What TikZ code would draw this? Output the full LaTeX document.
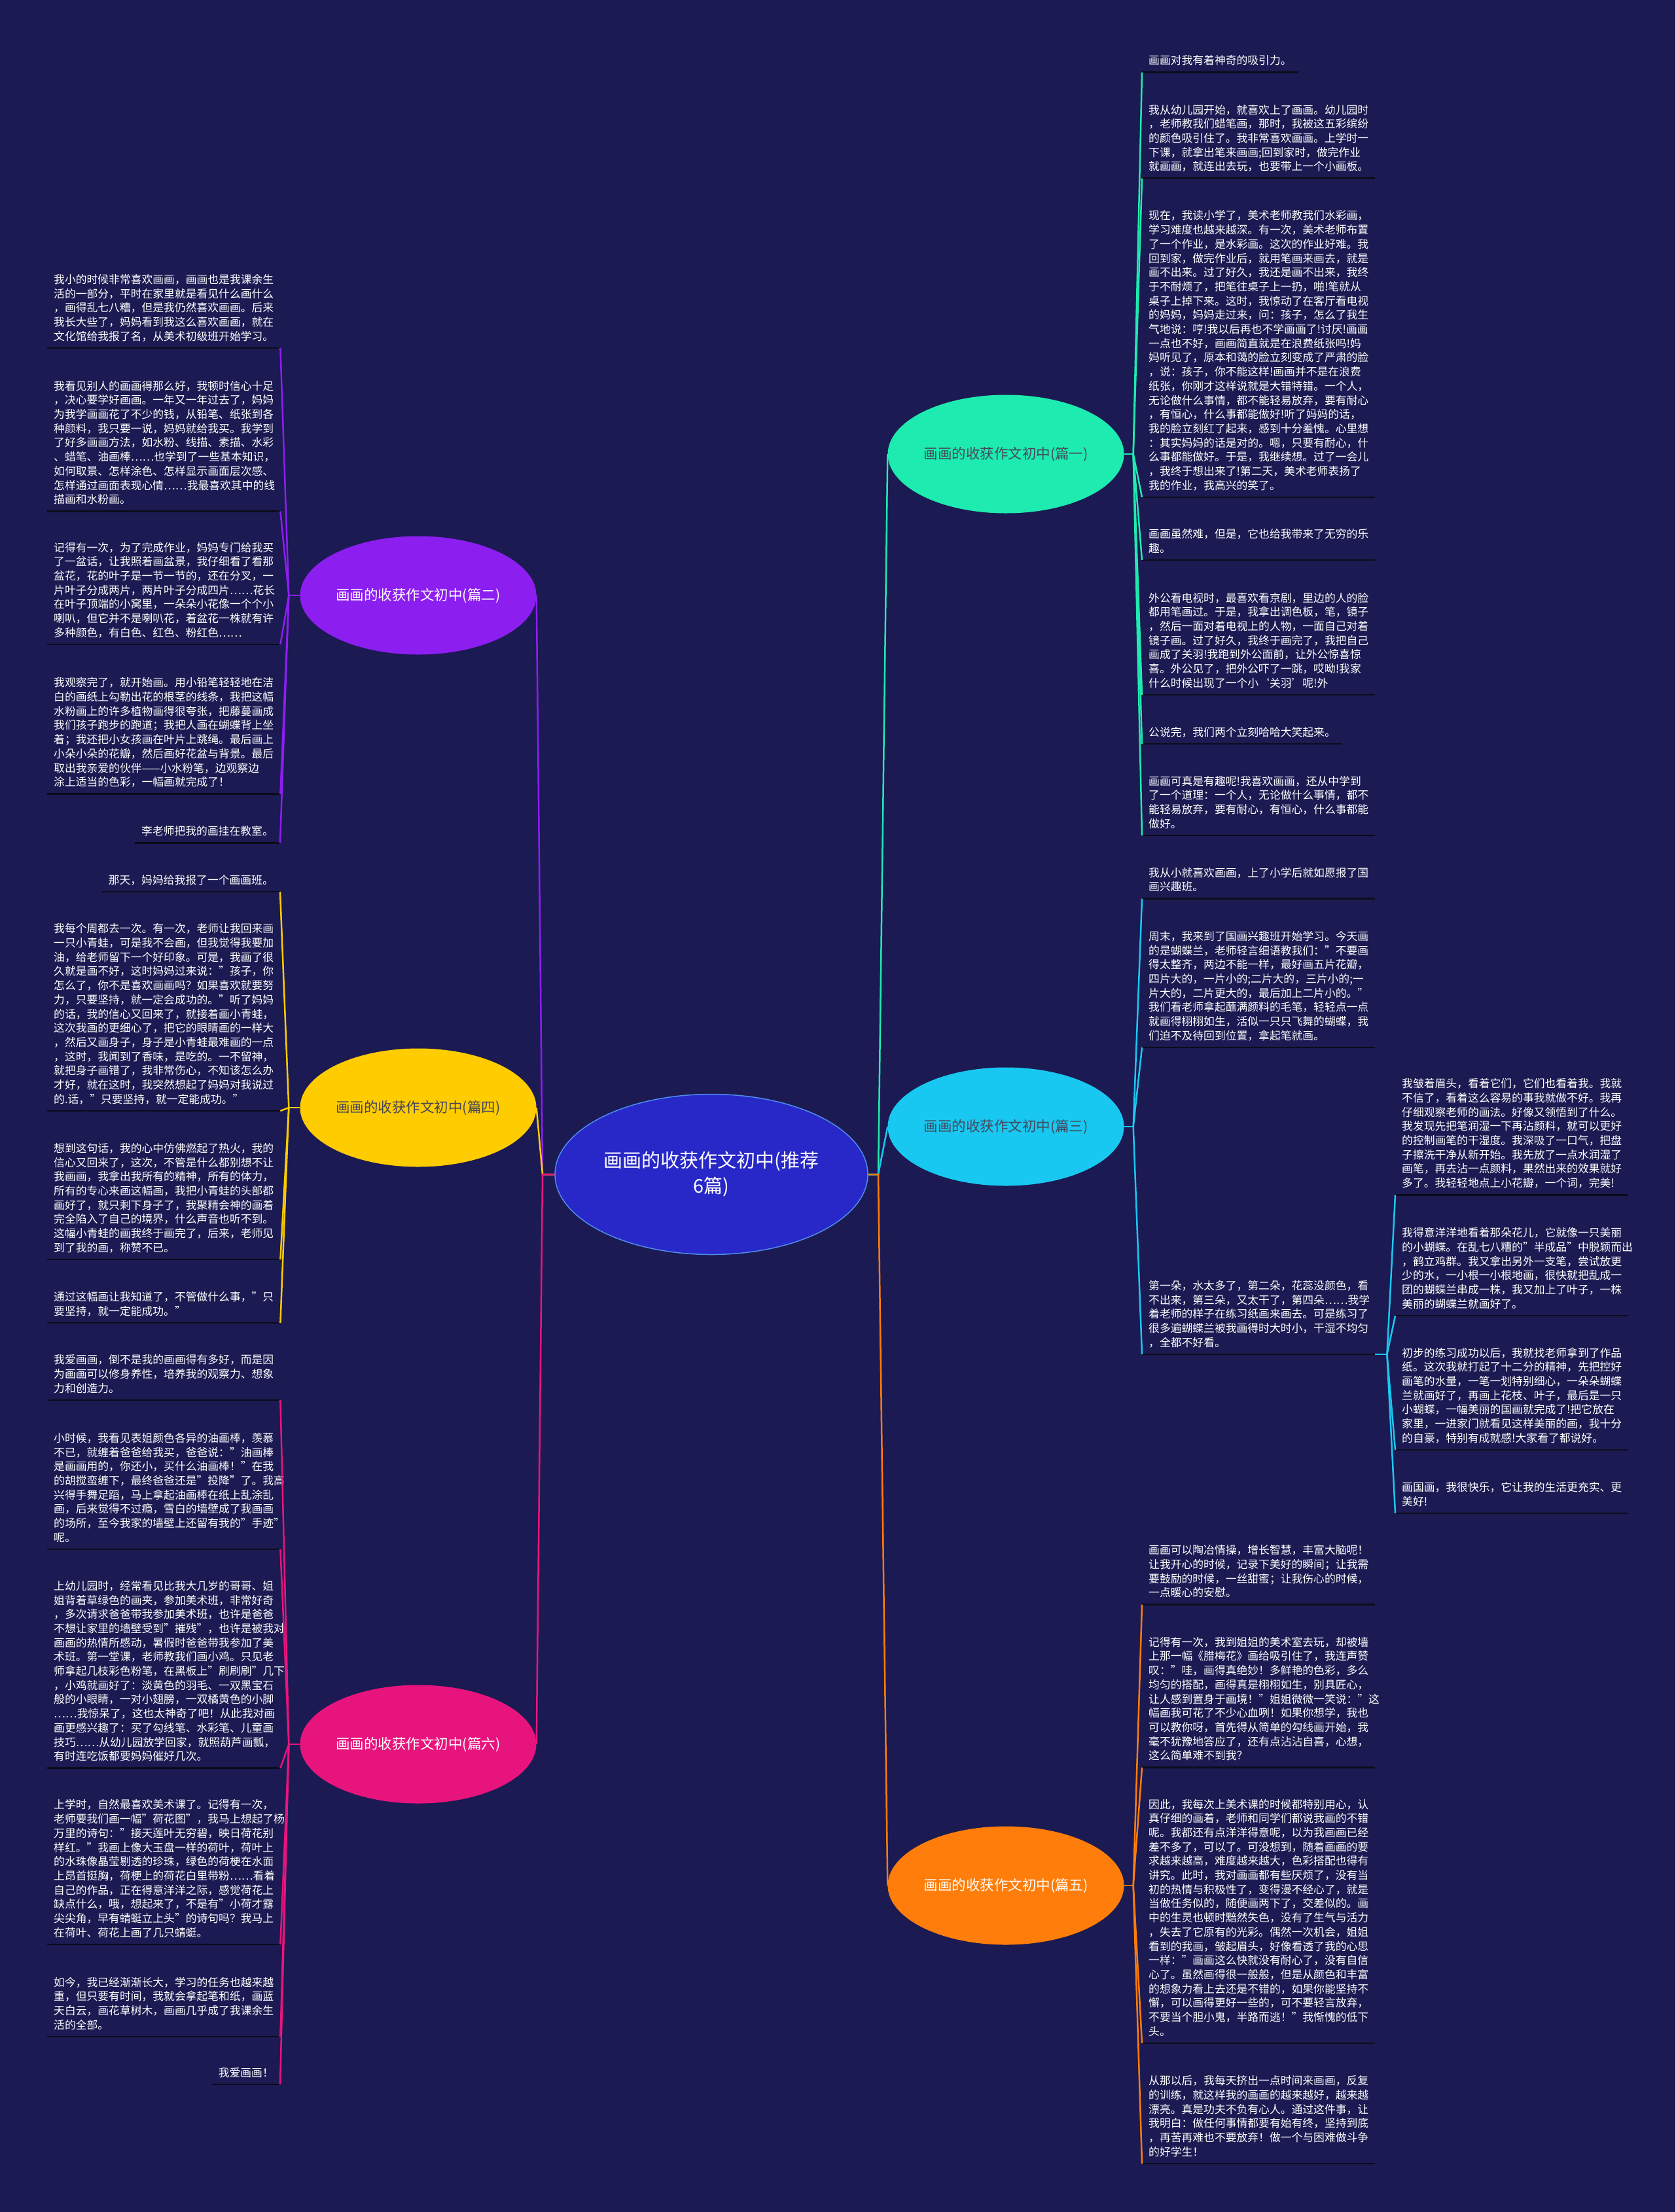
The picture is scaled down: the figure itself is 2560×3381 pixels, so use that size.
\documentclass[tikz,border=0pt]{standalone}
\usepackage{fontspec}
\setmainfont{Noto Sans CJK SC}
\usetikzlibrary{shapes.geometric,calc}
\definecolor{bg}{RGB}{27,26,82}
\definecolor{ulc}{RGB}{12,12,28}
\definecolor{cfill}{RGB}{40,40,200}
\definecolor{cborder}{RGB}{80,140,240}
\definecolor{cpurple}{RGB}{140,30,240}
\definecolor{cyellow}{RGB}{255,204,0}
\definecolor{cpink}{RGB}{232,20,125}
\definecolor{cmint}{RGB}{30,235,175}
\definecolor{ccyan}{RGB}{25,200,240}
\definecolor{corange}{RGB}{255,125,10}
\definecolor{darktxt}{RGB}{70,70,90}
\newcommand\lstrut{\vrule width 0pt height 14pt depth 4pt}
\newcommand\leaffont{\fontsize{16.8pt}{21.7pt}\selectfont}
\newcommand\branchfont{\fontsize{21.5pt}{26pt}\selectfont}
\newcommand\centerfont{\fontsize{29pt}{39pt}\selectfont}
\tikzset{
  leaf/.style={font=\leaffont, text=white, align=left, inner sep=0pt, text width=336pt,
    execute at begin node=\lstrut, execute at end node=\lstrut},
  sleaf/.style={font=\leaffont, text=white, inner sep=0pt, execute at begin node=\lstrut},
  ul/.style={line width=2.5pt, draw=ulc},
  branch/.style={ellipse, minimum width=361pt, minimum height=181pt, inner sep=0pt, font=\branchfont},
  conn/.style={line width=2.5pt, draw=#1},
}
\newcommand\leaf[5]{%
  \node[#1,anchor=#3] (#2) at #4 {#5};
  \coordinate (#2w) at ([shift={(-10,7.6)}]#2.south west);
  \coordinate (#2e) at ([shift={(10,7.6)}]#2.south east);
  \draw[ul] (#2w) -- (#2e);}
\begin{document}
\begin{tikzpicture}[x=1pt,y=-1pt]
\fill[bg] (0,0) rectangle (2560,3381);
\useasboundingbox (0,0) rectangle (2560,3381);

% central and branch nodes
\node[ellipse, fill=cfill, draw=cborder, line width=1.5pt, minimum width=478pt, minimum height=245pt,
  inner sep=0pt, font=\centerfont, text=white, align=center] (c) at (1087,1795) {画画的收获作文初中(推荐\\6篇)};
\node[branch, fill=cpurple, text=white] (n2) at (639,910) {画画的收获作文初中(篇二)};
\node[branch, fill=cyellow, text=darktxt] (n4) at (639,1693) {画画的收获作文初中(篇四)};
\node[branch, fill=cpink, text=white] (n6) at (639,2666) {画画的收获作文初中(篇六)};
\node[branch, fill=cmint, text=darktxt] (n1) at (1537,694) {画画的收获作文初中(篇一)};
\node[branch, fill=ccyan, text=darktxt] (n3) at (1537,1722) {画画的收获作文初中(篇三)};
\node[branch, fill=corange, text=white] (n5) at (1537,2882) {画画的收获作文初中(篇五)};

% ---------- 篇二 ----------
\leaf{leaf}{l21}{south west}{(82,524.4)}{我小的时候非常喜欢画画，画画也是我课余生\\活的一部分，平时在家里就是看见什么画什么\\，画得乱七八糟，但是我仍然喜欢画画。后来\\我长大些了，妈妈看到我这么喜欢画画，就在\\文化馆给我报了名，从美术初级班开始学习。}
\leaf{leaf}{l22}{south west}{(82,773.9)}{我看见别人的画画得那么好，我顿时信心十足\\，决心要学好画画。一年又一年过去了，妈妈\\为我学画画花了不少的钱，从铅笔、纸张到各\\种颜料，我只要一说，妈妈就给我买。我学到\\了好多画画方法，如水粉、线描、素描、水彩\\、蜡笔、油画棒……也学到了一些基本知识，\\如何取景、怎样涂色、怎样显示画面层次感、\\怎样通过画面表现心情……我最喜欢其中的线\\描画和水粉画。}
\leaf{leaf}{l23}{south west}{(82,977.4)}{记得有一次，为了完成作业，妈妈专门给我买\\了一盆话，让我照着画盆景，我仔细看了看那\\盆花，花的叶子是一节一节的，还在分叉，一\\片叶子分成两片，两片叶子分成四片……花长\\在叶子顶端的小窝里，一朵朵小花像一个个小\\喇叭，但它并不是喇叭花，着盆花一株就有许\\多种颜色，有白色、红色、粉红色……}
\leaf{leaf}{l24}{south west}{(82,1205.9)}{我观察完了，就开始画。用小铅笔轻轻地在洁\\白的画纸上勾勒出花的根茎的线条，我把这幅\\水粉画上的许多植物画得很夸张，把藤蔓画成\\我们孩子跑步的跑道；我把人画在蝴蝶背上坐\\着；我还把小女孩画在叶片上跳绳。最后画上\\小朵小朵的花瓣，然后画好花盆与背景。最后\\取出我亲爱的伙伴——小水粉笔，边观察边\\涂上适当的色彩，一幅画就完成了！}
\leaf{sleaf}{l25}{south east}{(418,1281)}{李老师把我的画挂在教室。}

% ---------- 篇四 ----------
\leaf{sleaf}{l41}{south east}{(418,1355.4)}{那天，妈妈给我报了一个画画班。}
\leaf{leaf}{l42}{south west}{(82,1690.4)}{我每个周都去一次。有一次，老师让我回来画\\一只小青蛙，可是我不会画，但我觉得我要加\\油，给老师留下一个好印象。可是，我画了很\\久就是画不好，这时妈妈过来说："孩子，你\\怎么了，你不是喜欢画画吗？如果喜欢就要努\\力，只要坚持，就一定会成功的。"听了妈妈\\的话，我的信心又回来了，就接着画小青蛙，\\这次我画的更细心了，把它的眼睛画的一样大\\，然后又画身子，身子是小青蛙最难画的一点\\，这时，我闻到了香味，是吃的。一不留神，\\就把身子画错了，我非常伤心，不知该怎么办\\才好，就在这时，我突然想起了妈妈对我说过\\的.话，"只要坚持，就一定能成功。"}
\leaf{leaf}{l43}{south west}{(82,1917.4)}{想到这句话，我的心中仿佛燃起了热火，我的\\信心又回来了，这次，不管是什么都别想不让\\我画画，我拿出我所有的精神，所有的体力，\\所有的专心来画这幅画，我把小青蛙的头部都\\画好了，就只剩下身子了，我聚精会神的画着\\完全陷入了自己的境界，什么声音也听不到。\\这幅小青蛙的画我终于画完了，后来，老师见\\到了我的画，称赞不已。}
\leaf{leaf}{l44}{south west}{(82,2014.4)}{通过这幅画让我知道了，不管做什么事，"只\\要坚持，就一定能成功。"}

% ---------- 篇六 ----------
\leaf{leaf}{l61}{south west}{(82,2132.4)}{我爱画画，倒不是我的画画得有多好，而是因\\为画画可以修身养性，培养我的观察力、想象\\力和创造力。}
\leaf{leaf}{l62}{south west}{(82,2360.4)}{小时候，我看见表姐颜色各异的油画棒，羡慕\\不已，就缠着爸爸给我买，爸爸说："油画棒\\是画画用的，你还小，买什么油画棒！"在我\\的胡搅蛮缠下，最终爸爸还是"投降"了。我高\\兴得手舞足蹈，马上拿起油画棒在纸上乱涂乱\\画，后来觉得不过瘾，雪白的墙壁成了我画画\\的场所，至今我家的墙壁上还留有我的"手迹"\\呢。}
\leaf{leaf}{l63}{south west}{(82,2694.9)}{上幼儿园时，经常看见比我大几岁的哥哥、姐\\姐背着草绿色的画夹，参加美术班，非常好奇\\，多次请求爸爸带我参加美术班，也许是爸爸\\不想让家里的墙壁受到"摧残"，也许是被我对\\画画的热情所感动，暑假时爸爸带我参加了美\\术班。第一堂课，老师教我们画小鸡。只见老\\师拿起几枝彩色粉笔，在黑板上"刷刷刷"几下\\，小鸡就画好了：淡黄色的羽毛、一双黑宝石\\般的小眼睛，一对小翅膀，一双橘黄色的小脚\\……我惊呆了，这也太神奇了吧！从此我对画\\画更感兴趣了：买了勾线笔、水彩笔、儿童画\\技巧……从幼儿园放学回家，就照葫芦画瓢，\\有时连吃饭都要妈妈催好几次。}
\leaf{leaf}{l64}{south west}{(82,2964.4)}{上学时，自然最喜欢美术课了。记得有一次，\\老师要我们画一幅"荷花图"，我马上想起了杨\\万里的诗句："接天莲叶无穷碧，映日荷花别\\样红。"我画上像大玉盘一样的荷叶，荷叶上\\的水珠像晶莹剔透的珍珠，绿色的荷梗在水面\\上昂首挺胸，荷梗上的荷花白里带粉……看着\\自己的作品，正在得意洋洋之际，感觉荷花上\\缺点什么，哦，想起来了，不是有"小荷才露\\尖尖角，早有蜻蜓立上头"的诗句吗？我马上\\在荷叶、荷花上画了几只蜻蜓。}
\leaf{leaf}{l65}{south west}{(82,3105.4)}{如今，我已经渐渐长大，学习的任务也越来越\\重，但只要有时间，我就会拿起笔和纸，画蓝\\天白云，画花草树木，画画几乎成了我课余生\\活的全部。}
\leaf{sleaf}{l66}{south east}{(418,3178.4)}{我爱画画！}

% ---------- 篇一 ----------
\leaf{sleaf}{l11}{south west}{(1755,103.1)}{画画对我有着神奇的吸引力。}
\leaf{leaf}{l12}{south west}{(1755,265.1)}{我从幼儿园开始，就喜欢上了画画。幼儿园时\\，老师教我们蜡笔画，那时，我被这五彩缤纷\\的颜色吸引住了。我非常喜欢画画。上学时一\\下课，就拿出笔来画画;回到家时，做完作业\\就画画，就连出去玩，也要带上一个小画板。}
\leaf{leaf}{l13}{south west}{(1755,752.4)}{现在，我读小学了，美术老师教我们水彩画，\\学习难度也越来越深。有一次，美术老师布置\\了一个作业，是水彩画。这次的作业好难。我\\回到家，做完作业后，就用笔画来画去，就是\\画不出来。过了好久，我还是画不出来，我终\\于不耐烦了，把笔往桌子上一扔，啪!笔就从\\桌子上掉下来。这时，我惊动了在客厅看电视\\的妈妈，妈妈走过来，问：孩子，怎么了我生\\气地说：哼!我以后再也不学画画了!讨厌!画画\\一点也不好，画画简直就是在浪费纸张吗!妈\\妈听见了，原本和蔼的脸立刻变成了严肃的脸\\，说：孩子，你不能这样!画画并不是在浪费\\纸张，你刚才这样说就是大错特错。一个人，\\无论做什么事情，都不能轻易放弃，要有耐心\\，有恒心，什么事都能做好!听了妈妈的话，\\我的脸立刻红了起来，感到十分羞愧。心里想\\：其实妈妈的话是对的。嗯，只要有耐心，什\\么事都能做好。于是，我继续想。过了一会儿\\，我终于想出来了!第二天，美术老师表扬了\\我的作业，我高兴的笑了。}
\leaf{leaf}{l14}{south west}{(1755,848.4)}{画画虽然难，但是，它也给我带来了无穷的乐\\趣。}
\leaf{leaf}{l15}{south west}{(1755,1054.4)}{外公看电视时，最喜欢看京剧，里边的人的脸\\都用笔画过。于是，我拿出调色板，笔，镜子\\，然后一面对着电视上的人物，一面自己对着\\镜子画。过了好久，我终于画完了，我把自己\\画成了关羽!我跑到外公面前，让外公惊喜惊\\喜。外公见了，把外公吓了一跳，哎呦!我家\\什么时候出现了一个小‘关羽’呢!外}
\leaf{sleaf}{l16}{south west}{(1755,1129.4)}{公说完，我们两个立刻哈哈大笑起来。}
\leaf{leaf}{l17}{south west}{(1755,1269.4)}{画画可真是有趣呢!我喜欢画画，还从中学到\\了一个道理：一个人，无论做什么事情，都不\\能轻易放弃，要有耐心，有恒心，什么事都能\\做好。}

% ---------- 篇三 ----------
\leaf{leaf}{l31}{south west}{(1755,1366)}{我从小就喜欢画画，上了小学后就如愿报了国\\画兴趣班。}
\leaf{leaf}{l32}{south west}{(1755,1593.4)}{周末，我来到了国画兴趣班开始学习。今天画\\的是蝴蝶兰，老师轻言细语教我们："不要画\\得太整齐，两边不能一样，最好画五片花瓣，\\四片大的，一片小的;二片大的，三片小的;一\\片大的，二片更大的，最后加上二片小的。"\\我们看老师拿起蘸满颜料的毛笔，轻轻点一点\\就画得栩栩如生，活似一只只飞舞的蝴蝶，我\\们迫不及待回到位置，拿起笔就画。}
\leaf{leaf}{l33}{south west}{(1755,2062.4)}{第一朵，水太多了，第二朵，花蕊没颜色，看\\不出来，第三朵，又太干了，第四朵……我学\\着老师的样子在练习纸画来画去。可是练习了\\很多遍蝴蝶兰被我画得时大时小，干湿不均匀\\，全都不好看。}
\leaf{leaf}{l3a}{south west}{(2142,1818.8)}{我皱着眉头，看着它们，它们也看着我。我就\\不信了，看着这么容易的事我就做不好。我再\\仔细观察老师的画法。好像又领悟到了什么。\\我发现先把笔润湿一下再沾颜料，就可以更好\\的控制画笔的干湿度。我深吸了一口气，把盘\\子擦洗干净从新开始。我先放了一点水润湿了\\画笔，再去沾一点颜料，果然出来的效果就好\\多了。我轻轻地点上小花瓣，一个词，完美!}
\leaf{leaf}{l3b}{south west}{(2142,2003.4)}{我得意洋洋地看着那朵花儿，它就像一只美丽\\的小蝴蝶。在乱七八糟的"半成品"中脱颖而出\\，鹤立鸡群。我又拿出另外一支笔，尝试放更\\少的水，一小根一小根地画，很快就把乱成一\\团的蝴蝶兰串成一株，我又加上了叶子，一株\\美丽的蝴蝶兰就画好了。}
\leaf{leaf}{l3c}{south west}{(2142,2208.4)}{初步的练习成功以后，我就找老师拿到了作品\\纸。这次我就打起了十二分的精神，先把控好\\画笔的水量，一笔一划特别细心，一朵朵蝴蝶\\兰就画好了，再画上花枝、叶子，最后是一只\\小蝴蝶，一幅美丽的国画就完成了!把它放在\\家里，一进家门就看见这样美丽的画，我十分\\的自豪，特别有成就感!大家看了都说好。}
\leaf{leaf}{l3d}{south west}{(2142,2305.4)}{画国画，我很快乐，它让我的生活更充实、更\\美好!}

% ---------- 篇五 ----------
\leaf{leaf}{l51}{south west}{(1755,2444.9)}{画画可以陶冶情操，增长智慧，丰富大脑呢！\\让我开心的时候，记录下美好的瞬间；让我需\\要鼓励的时候，一丝甜蜜；让我伤心的时候，\\一点暖心的安慰。}
\leaf{leaf}{l52}{south west}{(1755,2694)}{记得有一次，我到姐姐的美术室去玩，却被墙\\上那一幅《腊梅花》画给吸引住了，我连声赞\\叹："哇，画得真绝妙！多鲜艳的色彩，多么\\均匀的搭配，画得真是栩栩如生，别具匠心，\\让人感到置身于画境！"姐姐微微一笑说："这\\幅画我可花了不少心血咧！如果你想学，我也\\可以教你呀，首先得从简单的勾线画开始，我\\毫不犹豫地答应了，还有点沾沾自喜，心想，\\这么简单难不到我？}
\leaf{leaf}{l53}{south west}{(1755,3115.4)}{因此，我每次上美术课的时候都特别用心，认\\真仔细的画着，老师和同学们都说我画的不错\\呢。我都还有点洋洋得意呢，以为我画画已经\\差不多了，可以了。可没想到，随着画画的要\\求越来越高，难度越来越大，色彩搭配也得有\\讲究。此时，我对画画都有些厌烦了，没有当\\初的热情与积极性了，变得漫不经心了，就是\\当做任务似的，随便画两下了，交差似的。画\\中的生灵也顿时黯然失色，没有了生气与活力\\，失去了它原有的光彩。偶然一次机会，姐姐\\看到的我画，皱起眉头，好像看透了我的心思\\一样："画画这么快就没有耐心了，没有自信\\心了。虽然画得很一般般，但是从颜色和丰富\\的想象力看上去还是不错的，如果你能坚持不\\懈，可以画得更好一些的，可不要轻言放弃，\\不要当个胆小鬼，半路而逃！"我惭愧的低下\\头。}
\leaf{leaf}{l54}{south west}{(1755,3299.4)}{从那以后，我每天挤出一点时间来画画，反复\\的训练，就这样我的画画的越来越好，越来越\\漂亮。真是功夫不负有心人。通过这件事，让\\我明白：做任何事情都要有始有终，坚持到底\\，再苦再难也不要放弃！做一个与困难做斗争\\的好学生！}

% ---------- connectors ----------
\coordinate (JL) at (829,1795);
\coordinate (JR) at (1342,1795);
\coordinate (j2) at ([xshift=-17pt]n2.west);
\coordinate (j4) at ([xshift=-17pt]n4.west);
\coordinate (j6) at ([xshift=-17pt]n6.west);
\coordinate (j1) at ([xshift=14pt]n1.east);
\coordinate (j3) at ([xshift=14pt]n3.east);
\coordinate (j5) at ([xshift=14pt]n5.east);
\coordinate (j33) at ([xshift=18pt]l33e);

\draw[conn=cpurple] (c.west) -- (JL) -- (n2.east);
\draw[conn=cyellow] (c.west) -- (JL) -- (n4.east);
\draw[conn=cpink] (c.west) -- (JL) -- (n6.east);
\draw[conn=cmint] (c.east) -- (JR) -- (n1.west);
\draw[conn=ccyan] (c.east) -- (JR) -- (n3.west);
\draw[conn=corange] (c.east) -- (JR) -- (n5.west);

\draw[conn=cpurple] (n2.west) -- (j2);
\foreach \l in {l21,l22,l23,l24,l25} \draw[conn=cpurple] (j2) -- (\l e);
\draw[conn=cyellow] (n4.west) -- (j4);
\foreach \l in {l41,l42,l43,l44} \draw[conn=cyellow] (j4) -- (\l e);
\draw[conn=cpink] (n6.west) -- (j6);
\foreach \l in {l61,l62,l63,l64,l65,l66} \draw[conn=cpink] (j6) -- (\l e);
\draw[conn=cmint] (n1.east) -- (j1);
\foreach \l in {l11,l12,l13,l14,l15,l16,l17} \draw[conn=cmint] (j1) -- (\l w);
\draw[conn=ccyan] (n3.east) -- (j3);
\foreach \l in {l31,l32,l33} \draw[conn=ccyan] (j3) -- (\l w);
\draw[conn=ccyan] (l33e) -- (j33);
\foreach \l in {l3a,l3b,l3c,l3d} \draw[conn=ccyan] (j33) -- (\l w);
\draw[conn=corange] (n5.east) -- (j5);
\foreach \l in {l51,l52,l53,l54} \draw[conn=corange] (j5) -- (\l w);
\end{tikzpicture}
\end{document}
